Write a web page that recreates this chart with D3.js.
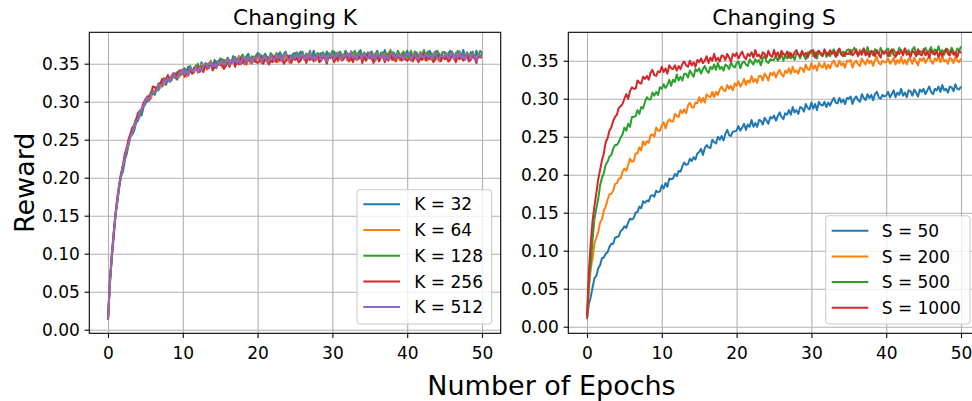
<!DOCTYPE html>
<html>
<head>
<meta charset="utf-8">
<script src="https://cdn.jsdelivr.net/npm/d3@7/dist/d3.min.js"></script>
<style>
  html, body { margin: 0; padding: 0; background: #fff; }
  svg { display: block; font-family: "DejaVu Sans", sans-serif; }
</style>
</head>
<body>
<svg id="chart" width="972" height="401"></svg>
<script>
// ---------- DATA ----------
const epochStep = 0.25;              // one reading every quarter epoch (epoch 0 .. 50)
const xTicks = [0, 10, 20, 30, 40, 50];
const yTicks = [0.00, 0.05, 0.10, 0.15, 0.20, 0.25, 0.30, 0.35];
const xDomain = [-2.5, 52.5];
const yDomainK = [-0.0047, 0.3913];
const yDomainS = [-0.0087, 0.3874];

const kLabels = ["K = 32", "K = 64", "K = 128", "K = 256", "K = 512"];
const sLabels = ["S = 50", "S = 200", "S = 500", "S = 1000"];
const colorsK = ["#1f77b4", "#ff7f0e", "#2ca02c", "#d62728", "#9467bd"];
const colorsS = ["#1f77b4", "#ff7f0e", "#2ca02c", "#d62728"];

const k32 = [
  0.013,0.059,0.095,0.120,0.150,0.169,0.187,0.202,0.208,0.223,0.231,0.243,0.254,0.257,0.262,0.272,0.275,0.282,0.282,0.293,
  0.297,0.304,0.302,0.307,0.314,0.309,0.317,0.315,0.325,0.320,0.325,0.322,0.330,0.331,0.328,0.335,0.332,0.329,0.337,0.336,
  0.342,0.336,0.341,0.346,0.340,0.337,0.345,0.343,0.348,0.342,0.352,0.344,0.347,0.343,0.351,0.350,0.345,0.355,0.349,0.348,
  0.354,0.356,0.347,0.354,0.357,0.352,0.351,0.360,0.355,0.353,0.360,0.355,0.359,0.352,0.360,0.363,0.356,0.354,0.359,0.357,
  0.364,0.356,0.361,0.353,0.363,0.359,0.357,0.362,0.354,0.360,0.356,0.362,0.365,0.359,0.357,0.364,0.358,0.361,0.355,0.363,
  0.364,0.357,0.362,0.366,0.359,0.356,0.363,0.360,0.365,0.358,0.367,0.359,0.361,0.356,0.364,0.362,0.357,0.366,0.360,0.358,
  0.364,0.366,0.356,0.363,0.365,0.360,0.358,0.367,0.362,0.359,0.366,0.361,0.364,0.357,0.365,0.368,0.360,0.358,0.363,0.361,
  0.361,0.366,0.359,0.362,0.367,0.358,0.364,0.360,0.368,0.359,0.363,0.357,0.365,0.364,0.358,0.366,0.361,0.356,0.365,0.362,
  0.367,0.359,0.364,0.356,0.366,0.362,0.360,0.365,0.357,0.363,0.358,0.364,0.367,0.361,0.359,0.366,0.360,0.363,0.357,0.365,
  0.365,0.358,0.363,0.367,0.360,0.357,0.364,0.361,0.366,0.359,0.368,0.360,0.362,0.357,0.365,0.363,0.358,0.367,0.361,0.359,
  0.363];
const k64 = [
  0.013,0.064,0.094,0.125,0.152,0.169,0.191,0.202,0.217,0.225,0.237,0.244,0.256,0.263,0.266,0.276,0.280,0.282,0.290,0.295,
  0.304,0.301,0.308,0.304,0.315,0.314,0.315,0.321,0.318,0.325,0.323,0.329,0.333,0.329,0.330,0.336,0.332,0.336,0.332,0.339,
  0.340,0.343,0.333,0.341,0.344,0.339,0.338,0.348,0.343,0.341,0.349,0.344,0.348,0.342,0.350,0.354,0.346,0.345,0.350,0.349,
  0.352,0.345,0.351,0.355,0.349,0.346,0.354,0.351,0.356,0.350,0.359,0.351,0.354,0.349,0.357,0.355,0.351,0.360,0.354,0.352,
  0.355,0.360,0.353,0.356,0.361,0.352,0.358,0.354,0.362,0.353,0.358,0.352,0.360,0.359,0.353,0.361,0.356,0.351,0.360,0.357,
  0.360,0.362,0.352,0.359,0.361,0.356,0.354,0.363,0.358,0.355,0.362,0.357,0.360,0.353,0.361,0.364,0.356,0.354,0.359,0.357,
  0.364,0.356,0.361,0.353,0.363,0.359,0.357,0.362,0.354,0.360,0.355,0.361,0.364,0.358,0.356,0.363,0.357,0.360,0.354,0.362,
  0.362,0.355,0.360,0.364,0.357,0.354,0.361,0.358,0.363,0.356,0.365,0.357,0.359,0.354,0.362,0.360,0.355,0.364,0.358,0.356,
  0.358,0.363,0.356,0.359,0.364,0.355,0.361,0.357,0.365,0.356,0.360,0.354,0.362,0.361,0.355,0.363,0.358,0.353,0.362,0.359,
  0.361,0.363,0.353,0.360,0.362,0.357,0.355,0.364,0.359,0.356,0.363,0.358,0.361,0.354,0.362,0.365,0.357,0.355,0.360,0.358,
  0.358];
const k128 = [
  0.013,0.064,0.092,0.125,0.152,0.170,0.188,0.205,0.214,0.224,0.239,0.246,0.256,0.260,0.270,0.277,0.279,0.283,0.289,0.295,
  0.302,0.300,0.307,0.313,0.310,0.310,0.319,0.318,0.325,0.322,0.331,0.325,0.329,0.326,0.334,0.334,0.331,0.339,0.335,0.335,
  0.338,0.344,0.337,0.341,0.347,0.338,0.345,0.342,0.350,0.342,0.347,0.341,0.350,0.350,0.344,0.353,0.348,0.344,0.353,0.351,
  0.357,0.349,0.355,0.347,0.358,0.354,0.353,0.358,0.350,0.357,0.352,0.358,0.362,0.356,0.354,0.361,0.356,0.359,0.353,0.361,
  0.361,0.363,0.353,0.360,0.362,0.357,0.355,0.364,0.359,0.356,0.364,0.359,0.362,0.355,0.363,0.366,0.358,0.356,0.361,0.359,
  0.360,0.365,0.358,0.361,0.366,0.357,0.363,0.359,0.367,0.358,0.362,0.356,0.364,0.363,0.357,0.365,0.360,0.355,0.364,0.361,
  0.367,0.359,0.364,0.356,0.366,0.362,0.360,0.365,0.357,0.363,0.358,0.364,0.367,0.361,0.359,0.366,0.360,0.363,0.357,0.365,
  0.362,0.365,0.356,0.361,0.366,0.358,0.364,0.365,0.357,0.363,0.359,0.368,0.360,0.364,0.358,0.367,0.362,0.359,0.366,0.361,
  0.359,0.361,0.367,0.358,0.363,0.365,0.357,0.362,0.360,0.368,0.359,0.366,0.361,0.364,0.357,0.360,0.367,0.363,0.358,0.365,
  0.365,0.357,0.363,0.360,0.366,0.359,0.361,0.367,0.364,0.358,0.363,0.357,0.365,0.360,0.362,0.366,0.356,0.364,0.359,0.367,
  0.364];
const k256 = [
  0.013,0.063,0.099,0.125,0.152,0.175,0.191,0.206,0.216,0.232,0.239,0.251,0.258,0.266,0.269,0.276,0.285,0.288,0.290,0.299,
  0.302,0.307,0.306,0.310,0.320,0.319,0.316,0.324,0.324,0.330,0.327,0.330,0.335,0.329,0.332,0.337,0.337,0.332,0.341,0.341,
  0.340,0.333,0.339,0.337,0.344,0.337,0.340,0.347,0.344,0.339,0.345,0.339,0.348,0.344,0.346,0.351,0.341,0.350,0.345,0.354,
  0.348,0.351,0.343,0.348,0.354,0.346,0.353,0.354,0.346,0.353,0.349,0.358,0.351,0.355,0.349,0.358,0.354,0.351,0.358,0.353,
  0.351,0.353,0.359,0.350,0.355,0.357,0.349,0.354,0.352,0.360,0.352,0.359,0.354,0.357,0.350,0.353,0.360,0.356,0.351,0.358,
  0.355,0.357,0.352,0.354,0.362,0.359,0.351,0.358,0.355,0.360,0.353,0.356,0.361,0.352,0.354,0.359,0.357,0.350,0.360,0.358,
  0.360,0.352,0.358,0.355,0.361,0.354,0.356,0.362,0.359,0.353,0.358,0.352,0.360,0.355,0.357,0.361,0.351,0.359,0.354,0.362,
  0.357,0.360,0.351,0.356,0.361,0.353,0.359,0.360,0.352,0.358,0.354,0.363,0.355,0.359,0.353,0.362,0.357,0.354,0.361,0.356,
  0.354,0.356,0.362,0.353,0.358,0.360,0.352,0.357,0.355,0.363,0.354,0.361,0.356,0.359,0.352,0.355,0.362,0.358,0.353,0.360,
  0.356,0.358,0.353,0.355,0.363,0.360,0.352,0.359,0.356,0.361,0.354,0.357,0.362,0.353,0.355,0.360,0.358,0.351,0.361,0.359,
  0.358];
const k512 = [
  0.013,0.060,0.095,0.127,0.149,0.169,0.191,0.203,0.216,0.225,0.240,0.245,0.255,0.260,0.269,0.274,0.278,0.287,0.289,0.294,
  0.302,0.306,0.301,0.310,0.314,0.312,0.314,0.323,0.322,0.322,0.329,0.326,0.331,0.326,0.334,0.338,0.332,0.332,0.337,0.336,
  0.343,0.336,0.341,0.334,0.345,0.341,0.340,0.346,0.338,0.345,0.341,0.347,0.351,0.346,0.344,0.352,0.346,0.350,0.344,0.353,
  0.349,0.354,0.348,0.351,0.357,0.348,0.355,0.351,0.359,0.351,0.355,0.349,0.358,0.357,0.351,0.359,0.355,0.350,0.359,0.356,
  0.359,0.361,0.351,0.358,0.360,0.355,0.353,0.362,0.357,0.354,0.362,0.357,0.360,0.353,0.361,0.364,0.356,0.354,0.359,0.357,
  0.358,0.363,0.356,0.359,0.364,0.355,0.361,0.357,0.365,0.356,0.360,0.354,0.362,0.361,0.355,0.363,0.358,0.353,0.362,0.359,
  0.363,0.356,0.361,0.365,0.358,0.355,0.362,0.359,0.364,0.357,0.366,0.358,0.360,0.355,0.363,0.361,0.356,0.365,0.359,0.357,
  0.365,0.357,0.362,0.354,0.364,0.360,0.358,0.363,0.355,0.361,0.356,0.362,0.365,0.359,0.357,0.364,0.358,0.361,0.355,0.363,
  0.362,0.364,0.354,0.361,0.363,0.358,0.356,0.365,0.360,0.357,0.364,0.359,0.362,0.355,0.363,0.366,0.358,0.356,0.361,0.359,
  0.359,0.364,0.357,0.360,0.365,0.356,0.362,0.358,0.366,0.357,0.361,0.355,0.363,0.362,0.356,0.364,0.359,0.354,0.363,0.360,
  0.359];

const s50 = [
  0.010,0.030,0.039,0.052,0.064,0.067,0.077,0.081,0.090,0.091,0.096,0.098,0.105,0.109,0.109,0.117,0.118,0.119,0.126,0.128,
  0.132,0.130,0.137,0.142,0.141,0.143,0.150,0.151,0.158,0.156,0.165,0.163,0.166,0.165,0.172,0.173,0.171,0.179,0.177,0.178,
  0.186,0.182,0.189,0.184,0.195,0.194,0.195,0.201,0.198,0.205,0.204,0.211,0.216,0.213,0.214,0.221,0.218,0.223,0.220,0.228,
  0.230,0.234,0.226,0.235,0.239,0.236,0.235,0.246,0.243,0.241,0.250,0.246,0.251,0.245,0.254,0.259,0.252,0.251,0.257,0.257,
  0.258,0.264,0.258,0.262,0.267,0.259,0.266,0.263,0.272,0.263,0.268,0.263,0.272,0.271,0.266,0.275,0.271,0.267,0.276,0.274,
  0.278,0.271,0.277,0.282,0.276,0.273,0.281,0.279,0.285,0.279,0.289,0.282,0.285,0.280,0.289,0.288,0.283,0.293,0.288,0.286,
  0.295,0.287,0.293,0.285,0.296,0.292,0.291,0.296,0.289,0.295,0.291,0.297,0.301,0.295,0.294,0.301,0.295,0.299,0.293,0.301,
  0.300,0.303,0.293,0.300,0.303,0.298,0.296,0.306,0.301,0.298,0.306,0.301,0.305,0.298,0.306,0.309,0.302,0.300,0.305,0.303,
  0.304,0.309,0.302,0.306,0.311,0.302,0.308,0.305,0.313,0.304,0.308,0.302,0.311,0.310,0.304,0.312,0.308,0.303,0.312,0.309,
  0.313,0.306,0.311,0.316,0.309,0.306,0.313,0.311,0.316,0.309,0.318,0.311,0.313,0.308,0.316,0.315,0.310,0.319,0.313,0.312,
  0.316];
const s200 = [
  0.012,0.048,0.076,0.090,0.110,0.117,0.125,0.137,0.141,0.153,0.158,0.167,0.174,0.175,0.179,0.188,0.189,0.195,0.195,0.204,
  0.208,0.205,0.213,0.221,0.217,0.218,0.228,0.228,0.236,0.232,0.244,0.239,0.244,0.242,0.252,0.253,0.250,0.262,0.258,0.258,
  0.265,0.269,0.261,0.269,0.273,0.270,0.270,0.280,0.277,0.276,0.285,0.281,0.286,0.281,0.291,0.295,0.289,0.288,0.295,0.294,
  0.302,0.295,0.301,0.295,0.306,0.303,0.302,0.309,0.302,0.309,0.305,0.312,0.316,0.311,0.310,0.318,0.313,0.317,0.311,0.320,
  0.317,0.323,0.316,0.320,0.326,0.318,0.324,0.321,0.330,0.322,0.326,0.321,0.330,0.330,0.324,0.333,0.329,0.324,0.334,0.331,
  0.335,0.328,0.334,0.338,0.332,0.329,0.337,0.334,0.340,0.333,0.342,0.335,0.337,0.333,0.341,0.340,0.335,0.345,0.339,0.338,
  0.347,0.339,0.344,0.337,0.347,0.343,0.341,0.347,0.339,0.345,0.340,0.347,0.350,0.344,0.342,0.350,0.344,0.347,0.341,0.350,
  0.349,0.351,0.341,0.348,0.350,0.345,0.343,0.353,0.348,0.345,0.352,0.347,0.350,0.343,0.351,0.355,0.347,0.345,0.350,0.348,
  0.348,0.353,0.346,0.349,0.354,0.345,0.351,0.347,0.355,0.346,0.351,0.345,0.353,0.352,0.346,0.354,0.349,0.344,0.353,0.350,
  0.354,0.347,0.352,0.356,0.349,0.346,0.353,0.350,0.355,0.348,0.357,0.349,0.351,0.346,0.354,0.352,0.347,0.356,0.350,0.348,
  0.353];
const s500 = [
  0.012,0.057,0.082,0.115,0.142,0.156,0.168,0.186,0.196,0.202,0.213,0.217,0.224,0.226,0.234,0.239,0.239,0.243,0.249,0.253,
  0.262,0.258,0.267,0.263,0.276,0.276,0.277,0.285,0.280,0.289,0.287,0.296,0.302,0.299,0.299,0.308,0.304,0.309,0.305,0.315,
  0.313,0.319,0.314,0.318,0.325,0.317,0.325,0.322,0.332,0.324,0.329,0.324,0.333,0.333,0.328,0.337,0.333,0.329,0.339,0.336,
  0.340,0.333,0.339,0.343,0.337,0.334,0.342,0.339,0.345,0.338,0.347,0.339,0.342,0.337,0.345,0.343,0.339,0.348,0.343,0.341,
  0.347,0.349,0.340,0.347,0.349,0.345,0.343,0.352,0.348,0.345,0.352,0.348,0.351,0.344,0.353,0.356,0.349,0.347,0.352,0.351,
  0.351,0.357,0.350,0.354,0.359,0.350,0.357,0.353,0.361,0.353,0.357,0.351,0.360,0.359,0.353,0.362,0.357,0.352,0.361,0.359,
  0.364,0.356,0.361,0.353,0.363,0.360,0.358,0.363,0.355,0.361,0.356,0.362,0.365,0.359,0.357,0.365,0.359,0.362,0.356,0.364,
  0.365,0.358,0.363,0.367,0.360,0.357,0.364,0.361,0.366,0.359,0.368,0.360,0.362,0.357,0.365,0.363,0.358,0.367,0.361,0.359,
  0.364,0.366,0.356,0.363,0.365,0.360,0.358,0.367,0.362,0.359,0.366,0.361,0.364,0.357,0.365,0.368,0.360,0.358,0.363,0.361,
  0.362,0.367,0.360,0.363,0.368,0.359,0.365,0.361,0.369,0.360,0.364,0.358,0.366,0.365,0.359,0.367,0.362,0.357,0.366,0.363,
  0.369];
const s1000 = [
  0.012,0.073,0.110,0.140,0.159,0.176,0.194,0.206,0.219,0.228,0.243,0.248,0.258,0.262,0.271,0.276,0.279,0.288,0.290,0.293,
  0.300,0.306,0.300,0.310,0.315,0.313,0.313,0.324,0.321,0.320,0.329,0.326,0.330,0.325,0.334,0.338,0.331,0.330,0.336,0.335,
  0.342,0.335,0.340,0.333,0.344,0.340,0.339,0.344,0.337,0.343,0.339,0.346,0.349,0.344,0.342,0.350,0.344,0.348,0.342,0.351,
  0.348,0.353,0.347,0.350,0.356,0.347,0.354,0.350,0.359,0.350,0.354,0.349,0.357,0.356,0.351,0.359,0.354,0.349,0.359,0.356,
  0.360,0.353,0.358,0.362,0.355,0.352,0.359,0.356,0.361,0.354,0.364,0.356,0.358,0.353,0.361,0.359,0.354,0.363,0.357,0.355,
  0.364,0.356,0.361,0.353,0.363,0.359,0.357,0.362,0.354,0.360,0.355,0.361,0.364,0.358,0.356,0.363,0.357,0.360,0.354,0.362,
  0.362,0.364,0.354,0.361,0.363,0.358,0.356,0.365,0.360,0.357,0.364,0.359,0.362,0.355,0.363,0.366,0.358,0.356,0.361,0.359,
  0.359,0.364,0.357,0.360,0.365,0.356,0.362,0.358,0.366,0.357,0.361,0.355,0.363,0.362,0.356,0.364,0.359,0.354,0.363,0.360,
  0.363,0.356,0.361,0.365,0.358,0.355,0.362,0.359,0.364,0.357,0.366,0.358,0.360,0.355,0.363,0.361,0.356,0.365,0.359,0.357,
  0.365,0.357,0.362,0.354,0.364,0.360,0.358,0.363,0.355,0.361,0.356,0.362,0.365,0.359,0.357,0.364,0.358,0.361,0.355,0.363,
  0.360];

const seriesK = [k32, k64, k128, k256, k512];
const seriesS = [s50, s200, s500, s1000];

// ---------- DRAW ----------
const svg = d3.select("#chart");
const FONT_TICK = 17, FONT_TITLE = 21.6, FONT_LABEL = 27;

function panel(opts) {
  const {x0, x1, y0, y1, yDomain, series, colors, labels, title, legend} = opts;
  const x = d3.scaleLinear().domain(xDomain).range([x0, x1]);
  const y = d3.scaleLinear().domain(yDomain).range([y1, y0]);
  const g = svg.append("g");

  // grid
  const gx = g.append("g").attr("transform", `translate(0,${y1})`)
    .call(d3.axisBottom(x).tickValues(xTicks).tickSize(-(y1 - y0)).tickFormat(""));
  const gy = g.append("g").attr("transform", `translate(${x0},0)`)
    .call(d3.axisLeft(y).tickValues(yTicks).tickSize(-(x1 - x0)).tickFormat(""));
  [gx, gy].forEach(a => {
    a.select(".domain").remove();
    a.selectAll("line").attr("stroke", "#b0b0b0").attr("stroke-width", 1.1);
  });

  // lines
  const clipId = "clip" + Math.round(x0);
  svg.append("clipPath").attr("id", clipId).append("rect")
    .attr("x", x0).attr("y", y0).attr("width", x1 - x0).attr("height", y1 - y0);
  const line = d3.line().x((d, i) => x(i * epochStep)).y(d => y(d));
  g.append("g").attr("clip-path", `url(#${clipId})`)
    .selectAll("path").data(series).join("path")
    .attr("d", d => line(d))
    .attr("fill", "none")
    .attr("stroke", (d, i) => colors[i])
    .attr("stroke-width", 2)
    .attr("stroke-linejoin", "round");

  // spines
  g.append("rect").attr("x", x0).attr("y", y0).attr("width", x1 - x0).attr("height", y1 - y0)
    .attr("fill", "none").attr("stroke", "#000").attr("stroke-width", 1.1);

  // axes ticks
  const ax = g.append("g").attr("transform", `translate(0,${y1})`)
    .call(d3.axisBottom(x).tickValues(xTicks).tickSize(4.7).tickPadding(4.5).tickFormat(d3.format("d")));
  const ay = g.append("g").attr("transform", `translate(${x0},0)`)
    .call(d3.axisLeft(y).tickValues(yTicks).tickSize(4.7).tickPadding(4.7).tickFormat(d3.format(".2f")));
  [ax, ay].forEach(a => {
    a.select(".domain").remove();
    a.selectAll("line").attr("stroke", "#000").attr("stroke-width", 1.1);
    a.selectAll("text").attr("font-size", FONT_TICK).attr("fill", "#000")
      .attr("font-family", "DejaVu Sans");
  });
  ax.selectAll("text").attr("dy", "0.95em");

  // title
  g.append("text").attr("x", (x0 + x1) / 2).attr("y", 25)
    .attr("text-anchor", "middle").attr("font-size", FONT_TITLE).attr("fill", "#000")
    .text(title);

  // legend
  const L = legend;
  const lg = g.append("g");
  lg.append("rect").attr("x", L.bx0).attr("y", L.by0)
    .attr("width", L.bx1 - L.bx0).attr("height", L.by1 - L.by0)
    .attr("rx", 3.4).attr("ry", 3.4)
    .attr("fill", "#fff").attr("fill-opacity", 0.8)
    .attr("stroke", "#cccccc").attr("stroke-width", 1.1);
  labels.forEach((lab, i) => {
    const ry = L.row0 + i * L.rowStep;
    lg.append("line").attr("x1", L.hx0).attr("x2", L.hx1).attr("y1", ry).attr("y2", ry)
      .attr("stroke", colors[i]).attr("stroke-width", 2);
    lg.append("text").attr("x", L.tx).attr("y", ry + 6.1)
      .attr("font-size", FONT_TICK).attr("fill", "#000").text(lab);
  });
}

panel({
  x0: 89.3, x1: 500.7, y0: 32.3, y1: 333.3, yDomain: yDomainK,
  series: seriesK, colors: colorsK, labels: kLabels, title: "Changing K",
  legend: {bx0: 357, bx1: 491.7, by0: 189.7, by1: 324, row0: 204.3, rowStep: 25.7, hx0: 363.3, hx1: 400, tx: 414.3}
});
panel({
  x0: 568.3, x1: 979.7, y0: 32.3, y1: 333.3, yDomain: yDomainS,
  series: seriesS, colors: colorsS, labels: sLabels, title: "Changing S",
  legend: {bx0: 825.7, bx1: 970, by0: 215.7, by1: 324, row0: 230.7, rowStep: 25.7, hx0: 831.7, hx1: 868.3, tx: 881.7}
});

// shared labels
svg.append("text").attr("transform", "translate(33.5,182.8) rotate(-90)")
  .attr("text-anchor", "middle").attr("font-size", FONT_LABEL).attr("fill", "#000").text("Reward");
svg.append("text").attr("x", 551.5).attr("y", 394.5)
  .attr("text-anchor", "middle").attr("font-size", FONT_LABEL).attr("fill", "#000").text("Number of Epochs");
</script>
</body>
</html>
